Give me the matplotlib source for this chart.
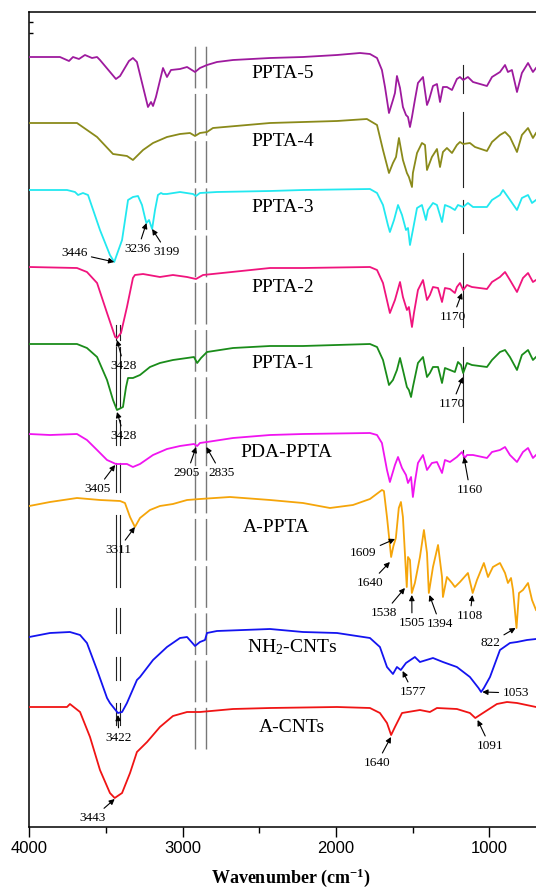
import matplotlib
matplotlib.use("Agg")
import matplotlib.pyplot as plt
from matplotlib.ticker import FixedLocator

plt.rcParams["font.family"] = ["Liberation Serif", "DejaVu Serif"]
plt.rcParams["mathtext.fontset"] = "custom"
plt.rcParams["mathtext.rm"] = "Liberation Serif"
plt.rcParams["mathtext.it"] = "Liberation Serif:italic"
plt.rcParams["mathtext.bf"] = "Liberation Serif:bold"

# FTIR spectra, wavenumber (cm-1) vs. stacked transmittance (a.u.)
ppta5_wn = [4000, 3800, 3741, 3715, 3676, 3637, 3591, 3558, 3539, 3435, 3408, 3350, 3324, 3298, 3258,
            3226, 3206, 3193, 3174, 3128, 3102, 3076, 3017, 2971, 2919, 2887, 2841, 2776, 2671, 2430,
            2215, 1993, 1843, 1778, 1732, 1700, 1680, 1654, 1628, 1615, 1602, 1582, 1563, 1543, 1530,
            1517, 1504, 1485, 1465, 1432, 1406, 1393, 1367, 1341, 1321, 1302, 1276, 1243, 1211, 1191,
            1170, 1139, 1106, 1015, 982, 930, 897, 878, 852, 819, 787, 747, 715, 695]
ppta5_t = [770, 770, 766, 770, 768, 772, 769, 770, 767, 748, 751, 766, 769, 765, 740,
           720, 725, 721, 730, 759, 750, 757, 758, 760, 755, 759, 762, 765, 767, 769,
           770, 772, 774, 773, 769, 757, 740, 714, 727, 734, 751, 739, 720, 712, 710,
           700, 710, 727, 744, 750, 722, 727, 741, 743, 725, 740, 740, 737, 748, 750,
           747, 750, 745, 741, 750, 755, 762, 755, 757, 735, 754, 764, 755, 759]

ppta4_wn = [4000, 3689, 3558, 3454, 3363, 3324, 3258, 3193, 3102, 3017, 2952, 2919, 2887, 2841, 2802,
            2430, 1993, 1798, 1732, 1693, 1654, 1628, 1608, 1589, 1563, 1537, 1524, 1504, 1498, 1471,
            1439, 1419, 1406, 1374, 1341, 1321, 1302, 1276, 1243, 1211, 1191, 1170, 1126, 1093, 1015,
            982, 930, 897, 865, 819, 787, 747, 715, 695]
ppta4_t = [704, 704, 690, 673, 671, 667, 677, 684, 690, 693, 694, 691, 694, 695, 699,
           704, 706, 708, 702, 677, 654, 664, 670, 689, 667, 654, 650, 640, 654, 674,
           684, 682, 657, 670, 678, 660, 675, 679, 674, 682, 685, 683, 684, 680, 676,
           685, 692, 695, 690, 675, 692, 699, 689, 694]

ppta3_wn = [4000, 3754, 3702, 3682, 3650, 3617, 3539, 3474, 3446, 3395, 3356, 3324, 3291, 3265, 3245,
            3236, 3219, 3199, 3180, 3161, 3141, 3128, 3102, 3017, 2932, 2913, 2887, 2776, 2430, 2215,
            1778, 1732, 1693, 1661, 1648, 1621, 1595, 1569, 1543, 1530, 1517, 1498, 1471, 1439, 1413,
            1400, 1367, 1341, 1308, 1289, 1256, 1224, 1204, 1170, 1139, 1106, 1015, 982, 930, 910,
            878, 819, 787, 747, 721, 695]
ppta3_t = [637, 637, 635, 632, 634, 632, 597, 572, 565, 587, 627, 630, 631, 622, 609,
           604, 607, 598, 617, 632, 634, 633, 633, 635, 633, 631, 634, 635, 636, 637,
           638, 634, 622, 602, 595, 607, 622, 612, 597, 599, 582, 597, 619, 622, 607,
           617, 624, 622, 605, 622, 620, 617, 622, 620, 624, 620, 620, 627, 632, 637,
           630, 617, 629, 632, 624, 627]

ppta2_wn = [4000, 3689, 3624, 3558, 3493, 3440, 3428, 3402, 3363, 3324, 3311, 3258, 3148, 3063, 2971,
            2913, 2867, 2430, 2215, 1778, 1732, 1693, 1648, 1615, 1582, 1563, 1537, 1524, 1504, 1491,
            1465, 1432, 1406, 1387, 1367, 1334, 1308, 1289, 1256, 1224, 1211, 1191, 1170, 1145, 1113,
            1015, 982, 930, 897, 865, 819, 780, 747, 715, 695]
ppta2_t = [560, 559, 555, 544, 514, 490, 489, 494, 520, 549, 552, 553, 550, 552, 550,
           548, 552, 559, 559, 560, 557, 544, 514, 527, 545, 530, 517, 520, 500, 514,
           537, 547, 527, 532, 540, 539, 525, 539, 538, 534, 540, 544, 537, 542, 540,
           538, 545, 550, 555, 547, 535, 549, 554, 545, 547]

ppta1_wn = [4000, 3689, 3624, 3558, 3493, 3454, 3428, 3389, 3369, 3356, 3324, 3278, 3213, 3148, 3063,
            2971, 2926, 2905, 2880, 2841, 2671, 2430, 2215, 1778, 1732, 1693, 1654, 1628, 1602, 1582,
            1563, 1537, 1524, 1510, 1498, 1465, 1432, 1406, 1387, 1367, 1334, 1308, 1289, 1256, 1224,
            1204, 1184, 1170, 1145, 1113, 1015, 982, 930, 897, 865, 819, 787, 747, 715, 695]
ppta1_t = [483, 483, 479, 470, 447, 427, 417, 420, 440, 449, 449, 452, 460, 464, 467,
           469, 470, 464, 469, 475, 479, 481, 481, 483, 480, 467, 442, 447, 457, 469,
           457, 440, 437, 430, 440, 464, 470, 450, 454, 460, 460, 444, 459, 457, 455,
           465, 462, 454, 464, 462, 460, 467, 475, 477, 470, 457, 472, 477, 467, 470]

pda_wn = [4000, 3865, 3689, 3624, 3558, 3493, 3435, 3405, 3363, 3324, 3278, 3193, 3102, 3017, 2926,
          2905, 2887, 2841, 2671, 2430, 2215, 1778, 1732, 1700, 1667, 1648, 1615, 1595, 1569, 1543,
          1530, 1510, 1498, 1485, 1465, 1432, 1406, 1374, 1341, 1308, 1289, 1256, 1211, 1178, 1160,
          1145, 1106, 1015, 982, 930, 897, 865, 819, 780, 747, 715, 695]
pda_t = [393, 392, 393, 387, 377, 367, 363, 363, 363, 360, 363, 372, 378, 381, 383,
         381, 384, 385, 389, 392, 393, 394, 392, 384, 357, 345, 362, 370, 359, 352,
         344, 350, 330, 345, 364, 372, 357, 364, 365, 354, 367, 365, 370, 375, 369,
         372, 372, 369, 375, 377, 380, 372, 365, 375, 379, 369, 372]

appta_wn = [4000, 3865, 3689, 3539, 3408, 3376, 3343, 3311, 3278, 3213, 3148, 3063, 2971, 2887, 2691,
            2430, 2215, 2039, 1889, 1778, 1700, 1687, 1667, 1640, 1625, 1609, 1590, 1576, 1563, 1538,
            1530, 1517, 1505, 1485, 1452, 1426, 1406, 1394, 1367, 1334, 1308, 1302, 1276, 1243, 1224,
            1191, 1139, 1108, 1080, 1035, 1008, 976, 930, 897, 878, 858, 845, 822, 806, 780,
            747, 721, 695]
appta_t = [321, 325, 329, 327, 326, 324, 310, 300, 309, 317, 321, 323, 327, 328, 330,
           327, 324, 319, 322, 328, 337, 336, 310, 270, 281, 289, 319, 325, 310, 240,
           270, 267, 234, 244, 270, 297, 274, 234, 260, 282, 250, 230, 250, 244, 240,
           245, 254, 234, 247, 264, 250, 260, 264, 254, 244, 249, 237, 199, 234, 237,
           244, 227, 217]

nh2_wn = [4000, 3865, 3735, 3669, 3624, 3558, 3493, 3474, 3422, 3395, 3363, 3298, 3278, 3193, 3102,
          3017, 2971, 2919, 2887, 2854, 2841, 2776, 2430, 2215, 1993, 1778, 1713, 1667, 1628, 1602,
          1577, 1543, 1485, 1452, 1367, 1302, 1211, 1126, 1070, 1053, 1035, 995, 930, 865, 819,
          754, 695]
nh2_t = [190, 194, 195, 192, 184, 157, 129, 124, 114, 115, 124, 147, 150, 167, 180,
         189, 190, 181, 185, 187, 194, 196, 198, 195, 194, 189, 180, 160, 153, 160,
         157, 164, 170, 165, 169, 165, 160, 150, 139, 135, 139, 150, 177, 184, 185,
         187, 188]

acnt_wn = [4000, 3754, 3735, 3669, 3604, 3539, 3474, 3443, 3395, 3343, 3298, 3232, 3148, 3063, 2971,
           2887, 2671, 2430, 1993, 1778, 1713, 1667, 1640, 1615, 1569, 1452, 1387, 1341, 1211, 1126,
           1091, 1041, 950, 884, 819, 695]
acnt_t = [120, 120, 123, 115, 90, 57, 34, 29, 34, 54, 75, 85, 100, 111, 115,
          115, 118, 119, 120, 119, 114, 104, 92, 100, 114, 117, 115, 119, 118, 114,
          109, 114, 123, 125, 124, 120]

names = ["PPTA-5", "PPTA-4", "PPTA-3", "PPTA-2", "PPTA-1", "PDA-PPTA", "A-PPTA",
         "NH$_2$-CNTs", "A-CNTs"]
spectra = [(ppta5_wn, ppta5_t), (ppta4_wn, ppta4_t), (ppta3_wn, ppta3_t), (ppta2_wn, ppta2_t),
           (ppta1_wn, ppta1_t), (pda_wn, pda_t), (appta_wn, appta_t), (nh2_wn, nh2_t),
           (acnt_wn, acnt_t)]
colors = ["#9e1a9e", "#8a8a1a", "#22e8f0", "#f0147d", "#1a8c1a", "#f014f0", "#f5a50a",
          "#1414f0", "#f01414"]
name_pos = [(2550, 754), (2550, 686), (2550, 619), (2550, 539), (2550, 464), (2625, 375),
            (2610, 300), (2578, 180), (2500, 99)]

# peak labels: text, arrow tip (wn, t), text centre (wn, t)
peaks = [
    ("3446", (3446, 565), (3708, 574)),
    ("3236", (3236, 604), (3291, 578)),
    ("3199", (3199, 598), (3102, 575)),
    ("3428", (3428, 487), (3382, 461)),
    ("3428", (3428, 415), (3382, 391)),
    ("3405", (3440, 362), (3558, 338)),
    ("2905", (2912, 380), (2971, 354)),
    ("2835", (2845, 380), (2749, 354)),
    ("3311", (3311, 300), (3422, 277)),
    ("3422", (3422, 112), (3415, 89)),
    ("3443", (3443, 28), (3585, 9)),
    ("1170", (1178, 534), (1237, 510)),
    ("1170", (1171, 450), (1243, 423)),
    ("1160", (1165, 370), (1126, 337)),
    ("1609", (1615, 288), (1824, 274)),
    ("1640", (1648, 265), (1778, 244)),
    ("1538", (1550, 239), (1687, 214)),
    ("1505", (1505, 232), (1504, 204)),
    ("1394", (1390, 232), (1321, 203)),
    ("1108", (1110, 232), (1126, 211)),
    ("822", (828, 199), (995, 184)),
    ("1577", (1565, 156), (1498, 135)),
    ("1640", (1641, 90), (1732, 64)),
    ("1091", (1076, 107), (995, 81)),
]

# marker lines (wavenumber, list of (t_start, t_end) pieces)
oh_lines = [3435, 3408]
oh_pieces = [(487, 502), (419, 480), (382, 407), (335, 364), (240, 312), (194, 219),
             (147, 170), (102, 124)]
cn_line = 1170
cn_pieces = [(734, 762), (640, 715), (594, 627), (500, 574), (405, 480), (370, 377)]
ch_lines = [2916, 2848]

fig = plt.figure(figsize=(5.36, 8.88), dpi=100)
ax = fig.add_axes([29.3 / 536, 61 / 888, 1 - 29.3 / 536, 815 / 888])

for (wn, t), c in zip(spectra, colors):
    ax.plot(wn, t, color=c, lw=1.3, solid_joinstyle="round", zorder=3)

for name, (x, y) in zip(names, name_pos):
    ax.text(x, y, name, fontsize=14, ha="left", va="center", zorder=5)

for x in ch_lines:
    ax.plot([x, x], [78, 785], color="#777777", lw=1.0, dashes=(30, 4), zorder=2)
for x in oh_lines:
    for y0, y1 in oh_pieces:
        ax.plot([x, x], [y0, y1], color="#222222", lw=0.8, zorder=2)
for y0, y1 in cn_pieces:
    ax.plot([cn_line, cn_line], [y0, y1], color="#222222", lw=0.8, zorder=2)

arrow = dict(arrowstyle="-|>", color="black", lw=0.8, mutation_scale=8, shrinkA=1, shrinkB=0)
for txt, tip, pos in peaks:
    ax.annotate(txt, xy=tip, xytext=pos, fontsize=9.5, ha="center", va="center",
                arrowprops=arrow, zorder=6)
ax.annotate("1053", xy=(1045, 135), xytext=(912, 134), fontsize=9.5, ha="left", va="center",
            arrowprops=arrow)

ax.set_xlim(4000, 695)
ax.set_ylim(0, 815)
ax.xaxis.set_major_locator(FixedLocator([4000, 3000, 2000, 1000]))
ax.xaxis.set_minor_locator(FixedLocator([3500, 2500, 1500]))
ax.set_yticks([794, 805])
ax.set_yticklabels([])
ax.tick_params(axis="x", which="major", direction="out", length=7, width=1, labelsize=12, pad=3)
ax.tick_params(axis="x", which="minor", direction="out", length=4, width=1)
ax.tick_params(axis="y", direction="in", length=3, width=1)
for lab in ax.get_xticklabels():
    lab.set_family("Liberation Sans")
ax.spines["right"].set_visible(False)
for s in ["left", "top", "bottom"]:
    ax.spines[s].set_linewidth(1.1)

ax.set_xlabel("Wavenumber (cm$^{\\mathbf{-1}}$)", fontsize=13, fontweight="bold")
ax.xaxis.set_label_coords(0.516, -0.048)

fig.savefig("out.png", dpi=100)
